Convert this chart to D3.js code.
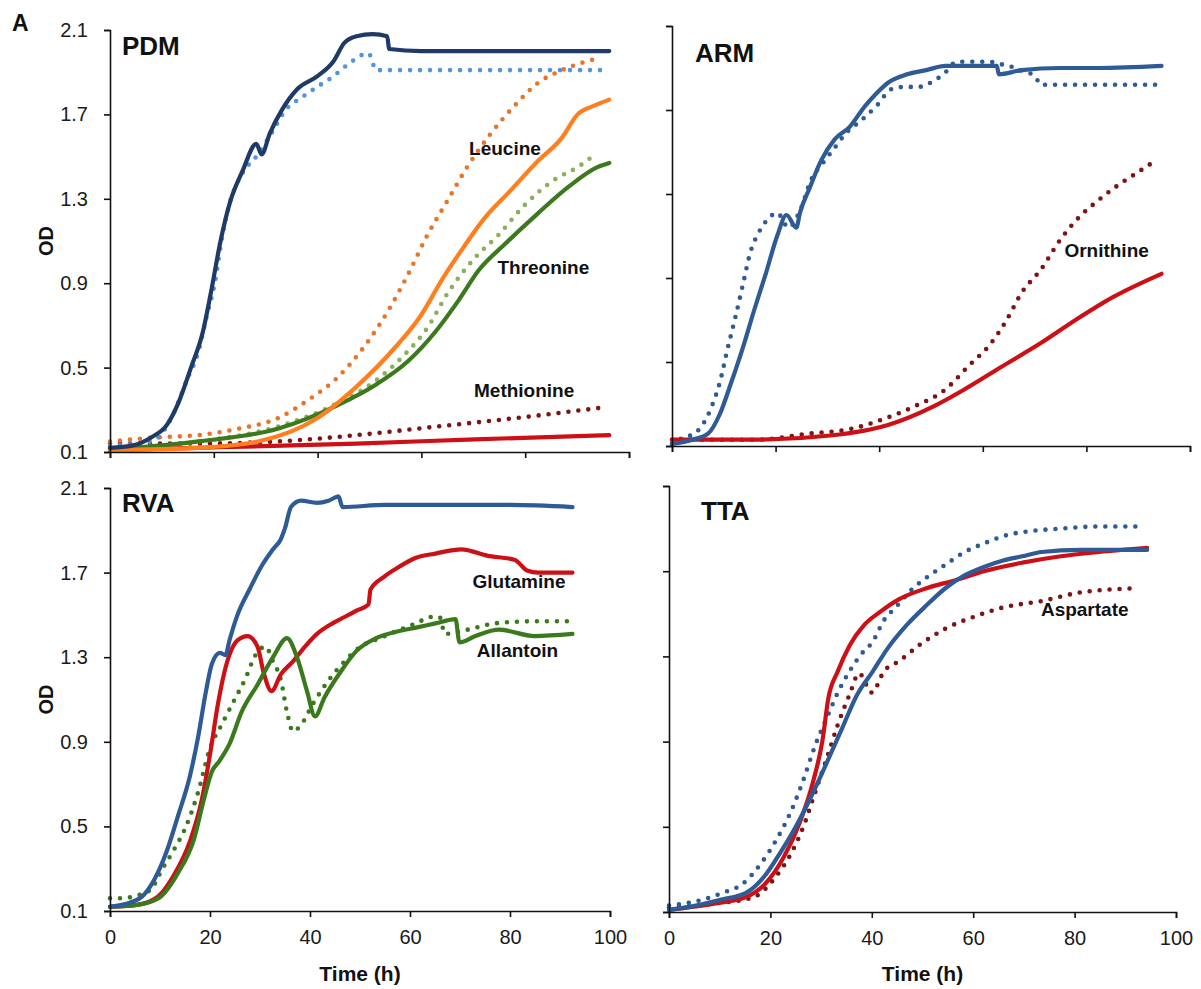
<!DOCTYPE html>
<html><head><meta charset="utf-8">
<script src="https://cdn.jsdelivr.net/npm/d3@7"></script>
<style>
body{margin:0;background:#fff}
text{font-family:"Liberation Sans",Arial,Helvetica,sans-serif}
</style>
</head><body>
<svg id="chart" width="1201" height="989"></svg>
<script>
// ---------- data ----------
const xTicks = [0, 20, 40, 60, 80, 100];
const yTicks = [0.1, 0.5, 0.9, 1.3, 1.7, 2.1];
const panelTitles = ["PDM", "ARM", "RVA", "TTA"];
const figureLetter = "A";
const xTitle = "Time (h)";
const yTitle = "OD";

// PDM panel  [time (h), OD]
const pdmControl = [[0,0.12],[4.2,0.13],[8,0.17],[11,0.23],[13.3,0.34],[15.6,0.50],[17.9,0.67],[19.4,0.85],[21.3,1.10],[23.2,1.29],[25.5,1.43],[28.2,1.56],[29.2,1.51],[30.8,1.61],[33.1,1.72],[36.1,1.82],[39.9,1.88],[43,1.95],[45.2,2.04],[47.5,2.07],[50.6,2.08],[53.4,2.07],[53.8,2.01],[60,2.0],[70,2.0],[80,2.0],[90,2.0],[96.2,2.0]];
const pdmControlDot = [[0,0.13],[8,0.15],[11.8,0.26],[14.8,0.44],[17.1,0.58],[18.6,0.74],[20.2,0.90],[21.7,1.13],[23.2,1.29],[25.5,1.42],[28.5,1.51],[31.6,1.63],[33.8,1.72],[36.9,1.78],[39.9,1.83],[43,1.88],[46,1.94],[49.8,1.99],[51.3,1.91],[60,1.91],[70,1.91],[80,1.91],[94.7,1.91]];
const leucine = [[0,0.11],[17.1,0.12],[28.5,0.15],[39.9,0.26],[47.5,0.41],[55.1,0.60],[59.7,0.74],[64.3,0.93],[68.1,1.07],[71.9,1.20],[77.2,1.34],[82.5,1.48],[87.1,1.59],[90.1,1.70],[93.2,1.74],[96.2,1.77]];
const leucineDot = [[0,0.15],[9.5,0.17],[17.1,0.18],[24.7,0.21],[32.3,0.26],[38.4,0.35],[43.7,0.45],[49,0.60],[53.6,0.77],[57.4,0.94],[61.2,1.13],[65,1.29],[68.8,1.45],[73.4,1.61],[77.9,1.74],[82.5,1.85],[87.1,1.91],[94.7,1.97]];
const threonine = [[0,0.11],[17.1,0.15],[32.3,0.21],[43.7,0.32],[51.3,0.42],[57.4,0.53],[62.7,0.67],[67.2,0.82],[71,0.96],[76.3,1.09],[82.4,1.23],[88.5,1.36],[93.9,1.45],[96.2,1.47]];
const threonineDot = [[0,0.11],[17.1,0.15],[32.3,0.22],[43.7,0.33],[51.3,0.44],[56.7,0.56],[61.2,0.69],[65,0.85],[70.3,1.02],[74.9,1.13],[79.5,1.26],[85.6,1.39],[90.1,1.45],[93.5,1.51]];
const methionine = [[0,0.11],[17.1,0.12],[47.5,0.14],[70.3,0.16],[96.2,0.18]];
const methionineDot = [[0,0.14],[17,0.14],[32.3,0.15],[47.5,0.18],[62.7,0.22],[77.9,0.26],[94.7,0.31]];

// ARM panel
const armControl = [[0,0.11],[4,0.13],[7,0.16],[9.2,0.25],[11.4,0.40],[13.7,0.57],[15.9,0.75],[18.1,0.92],[20.3,1.10],[22.1,1.20],[24,1.14],[24.7,1.21],[26.6,1.33],[28.8,1.46],[31.4,1.56],[34.3,1.62],[37.3,1.72],[39.5,1.78],[41.7,1.83],[45.4,1.87],[49.1,1.89],[52.8,1.91],[60.1,1.91],[62.7,1.91],[63.1,1.87],[67.5,1.89],[74.9,1.90],[82.3,1.90],[94.5,1.91]];
const armControlDot = [[0,0.11],[2.2,0.14],[4.4,0.16],[7.7,0.29],[9.2,0.40],[10.7,0.56],[12.2,0.71],[13.7,0.87],[15.1,1.02],[16.6,1.11],[18.5,1.18],[20.3,1.21],[22.5,1.14],[24.7,1.22],[26.9,1.37],[29.2,1.45],[31.4,1.52],[33.6,1.59],[36.5,1.65],[39.5,1.72],[42.4,1.80],[45,1.81],[47.5,1.81],[50.6,1.84],[52.4,1.87],[55,1.93],[57.2,1.93],[61.3,1.93],[63.1,1.92],[65,1.91],[67.2,1.89],[70.1,1.86],[71.2,1.82],[80,1.82],[94.5,1.82]];
const ornithine = [[0,0.13],[15.9,0.13],[30.6,0.15],[41.7,0.20],[50.6,0.29],[56.5,0.37],[63.8,0.48],[71.2,0.59],[77.9,0.70],[85.2,0.81],[94.5,0.92]];
const ornithineDot = [[0,0.13],[15.9,0.13],[26.9,0.16],[34.3,0.18],[41,0.23],[46.9,0.29],[52.8,0.37],[57.2,0.48],[61.6,0.59],[64.6,0.70],[67.5,0.83],[71.2,0.94],[74.9,1.08],[78.6,1.19],[82.3,1.27],[86,1.34],[89.7,1.40],[93.4,1.46]];

// RVA panel
const rvaControl = [[0,0.12],[4.1,0.14],[6.5,0.17],[8.9,0.25],[11.3,0.38],[13.6,0.55],[16,0.74],[17.6,0.92],[19.2,1.14],[20.4,1.27],[22,1.32],[23.1,1.31],[23.9,1.38],[25.5,1.50],[27.9,1.62],[30.3,1.73],[32.6,1.81],[34.2,1.86],[35,1.91],[36.2,2.01],[38.2,2.04],[41.4,2.03],[43.7,2.04],[45.7,2.06],[46.5,2.01],[55,2.02],[70,2.02],[80,2.02],[92.5,2.01]];
const glutamine = [[0,0.12],[5.7,0.13],[9.7,0.17],[12.8,0.27],[16,0.43],[18.4,0.63],[20,0.84],[21.6,1.08],[23.1,1.25],[25.5,1.38],[27.5,1.40],[29.5,1.35],[30.7,1.23],[32.3,1.14],[34.2,1.22],[36.6,1.28],[39,1.35],[41.4,1.41],[44.5,1.46],[46.9,1.49],[49.3,1.52],[51.7,1.55],[52.1,1.62],[54.8,1.68],[58,1.73],[61.2,1.77],[65.1,1.79],[70.3,1.81],[75.4,1.78],[81,1.76],[83.4,1.71],[85.7,1.70],[92.5,1.70]];
const allantoin = [[0,0.12],[5.7,0.13],[9.7,0.16],[13.6,0.28],[16.8,0.44],[18.8,0.63],[20.4,0.76],[21.9,0.81],[23.9,0.89],[26.3,1.04],[29.5,1.17],[32.6,1.30],[35.4,1.39],[37.4,1.30],[39.4,1.14],[41,1.02],[42.9,1.11],[46.1,1.23],[49.3,1.33],[53.2,1.39],[57.2,1.42],[61.2,1.44],[65.1,1.46],[69.1,1.48],[69.9,1.37],[73.1,1.40],[77.8,1.43],[84.9,1.40],[92.5,1.41]];
const allantoinDot = [[0,0.16],[2.5,0.16],[4.9,0.17],[8.1,0.20],[10.5,0.30],[12.8,0.39],[15.2,0.50],[17.6,0.66],[20,0.87],[22.3,0.98],[24.7,1.09],[27.1,1.20],[29.1,1.31],[31.1,1.35],[32.6,1.28],[34.2,1.19],[35.4,1.04],[36.6,0.95],[38.2,0.98],[40.6,1.08],[43.7,1.19],[46.9,1.28],[50.1,1.35],[54,1.39],[58,1.43],[61.2,1.46],[64.3,1.49],[65.9,1.49],[67,1.41],[71.5,1.43],[77,1.46],[85,1.47],[92.9,1.47]];

// TTA panel
const ttaControl = [[0,0.11],[5.3,0.13],[10.6,0.16],[15.2,0.19],[18.9,0.27],[22,0.38],[25,0.50],[28,0.64],[31.1,0.80],[34.1,0.96],[37.1,1.12],[40.2,1.23],[43.2,1.34],[47,1.45],[50.8,1.54],[54.5,1.62],[58.3,1.68],[62.1,1.72],[65.9,1.75],[69.7,1.77],[73.5,1.79],[81.1,1.80],[94.3,1.80]];
const ttaControlDot = [[0,0.13],[5.3,0.15],[10.6,0.19],[14.4,0.23],[18.2,0.33],[21.2,0.44],[24.2,0.58],[26.5,0.72],[28.8,0.88],[31.1,1.01],[33.3,1.13],[35.6,1.23],[37.9,1.31],[40.2,1.37],[42.4,1.47],[44.7,1.53],[47.7,1.61],[50.8,1.67],[54.5,1.73],[58.3,1.79],[62.1,1.83],[66.7,1.87],[72,1.89],[77.3,1.90],[84.8,1.91],[93.9,1.91]];
const aspartate = [[0,0.11],[9.1,0.14],[15.2,0.17],[18.9,0.23],[22.7,0.36],[25.8,0.52],[28.4,0.71],[30.3,0.91],[31.4,1.10],[33.3,1.23],[35.6,1.35],[38.6,1.45],[41.7,1.51],[45.5,1.57],[50.8,1.62],[56.8,1.66],[62.1,1.70],[69.7,1.74],[77.3,1.77],[84.8,1.79],[94.3,1.81]];
const aspartateDot = [[0,0.12],[9.1,0.14],[16.7,0.17],[21.2,0.27],[24.2,0.38],[26.5,0.50],[28.8,0.66],[31.1,0.82],[33.3,0.98],[35.6,1.12],[37.5,1.22],[40,1.13],[42.4,1.23],[45.5,1.28],[49.2,1.35],[54.5,1.43],[60.6,1.49],[65.9,1.53],[73.5,1.56],[81.1,1.60],[92.4,1.62]];

// series labels: [text, time, OD]
const pdmLabels = [["Leucine",76.1,1.54],["Threonine",83.5,0.976],["Methionine",79.8,0.39]];
const armLabels = [["Ornithine",83.9,1.03]];
const rvaLabels = [["Glutamine",81.8,1.66],["Allantoin",81.5,1.33]];
const ttaLabels = [["Aspartate",82,1.52]];

// ---------- styles / layout ----------
const C = {
  navy:"#1f3a66", lightBlue:"#5592da", blue:"#2e5a96",
  orange:"#ff7f1e", orangeDot:"#e8742a",
  green:"#3b7a1c", greenDot:"#8ab05a",
  red:"#cc1016", darkRed:"#7f1212"
};
const panels = [
  {title:panelTitles[0], box:{x0:110,x1:629,y0:452,y1:30}, tx:122, ty:55, xLab:false, yLab:true, labels:pdmLabels,
   series:[
     {d:methionineDot,c:C.darkRed,dot:true},{d:threonineDot,c:C.greenDot,dot:true},{d:leucineDot,c:C.orangeDot,dot:true},{d:pdmControlDot,c:C.lightBlue,dot:true},
     {d:methionine,c:C.red},{d:threonine,c:C.green},{d:leucine,c:C.orange},{d:pdmControl,c:C.navy}]},
  {title:panelTitles[1], box:{x0:672,x1:1190,y0:446,y1:26}, tx:695, ty:62, xLab:false, yLab:false, labels:armLabels,
   series:[
     {d:ornithineDot,c:C.darkRed,dot:true},{d:armControlDot,c:C.blue,dot:true},
     {d:ornithine,c:C.red},{d:armControl,c:C.blue}]},
  {title:panelTitles[2], box:{x0:110,x1:610,y0:911,y1:488}, tx:122, ty:512, xLab:true, yLab:true, labels:rvaLabels,
   series:[
     {d:allantoinDot,c:C.green,dot:true},
     {d:glutamine,c:C.red},{d:allantoin,c:C.green},{d:rvaControl,c:C.blue}]},
  {title:panelTitles[3], box:{x0:669,x1:1176,y0:912,y1:486}, tx:701, ty:520, xLab:true, yLab:false, labels:ttaLabels,
   series:[
     {d:aspartateDot,c:C.darkRed,dot:true},{d:ttaControlDot,c:C.blue,dot:true},
     {d:aspartate,c:C.red},{d:ttaControl,c:C.blue}]}
];

const svg = d3.select("#chart");
svg.append("rect").attr("width",1201).attr("height",989).attr("fill","#fff");

svg.append("text").attr("x",12).attr("y",31).attr("font-size",23).attr("font-weight","bold").attr("fill","#111").text(figureLetter);

panels.forEach(p => {
  const b = p.box;
  const x = d3.scaleLinear().domain([0,100]).range([b.x0,b.x1]);
  const y = d3.scaleLinear().domain([0.1,2.1]).range([b.y0,b.y1]);
  const g = svg.append("g");

  const line = d3.line().x(d=>x(d[0])).y(d=>y(d[1])).curve(d3.curveMonotoneX);
  p.series.forEach(s => {
    g.append("path").attr("d",line(s.d)).attr("fill","none").attr("stroke",s.c)
      .attr("stroke-width", s.dot?4.6:4.2)
      .attr("stroke-linecap","round").attr("stroke-linejoin","round")
      .attr("stroke-dasharray", s.dot?"0 10":null);
  });

  const xa = d3.axisBottom(x).tickValues(xTicks).tickSize(6).tickPadding(13)
    .tickFormat(p.xLab ? d3.format("d") : () => "");
  const ya = d3.axisLeft(y).tickValues(yTicks).tickSize(6).tickPadding(16)
    .tickFormat(p.yLab ? d3.format(".1f") : () => "");
  const gx = g.append("g").attr("transform",`translate(0,${b.y0})`).call(xa);
  const gy = g.append("g").attr("transform",`translate(${b.x0},0)`).call(ya);
  [gx,gy].forEach(a => {
    a.selectAll("path,line").attr("stroke","#111").attr("stroke-width",1.6);
    a.selectAll("text").attr("font-size",20).attr("fill","#1a1a1a")
      .attr("font-family",'"Liberation Sans",Arial,sans-serif');
  });

  g.append("text").attr("x",p.tx).attr("y",p.ty).attr("font-size",26).attr("font-weight","bold")
    .attr("fill","#111").text(p.title);

  p.labels.forEach(l => {
    g.append("text").attr("x",x(l[1])).attr("y",y(l[2])).attr("text-anchor","middle")
      .attr("dominant-baseline","central").attr("font-size",19).attr("font-weight","bold")
      .attr("fill","#111").text(l[0]);
  });

  if (p.yLab) {
    const cy = (b.y0+b.y1)/2;
    g.append("text").attr("transform",`translate(46,${cy}) rotate(-90)`).attr("text-anchor","middle")
      .attr("dominant-baseline","central").attr("font-size",20).attr("font-weight","bold")
      .attr("fill","#111").text(yTitle);
  }
  if (p.xLab) {
    g.append("text").attr("x",(b.x0+b.x1)/2).attr("y",981).attr("text-anchor","middle")
      .attr("font-size",21).attr("font-weight","bold").attr("fill","#111").text(xTitle);
  }
});
</script>
</body></html>
